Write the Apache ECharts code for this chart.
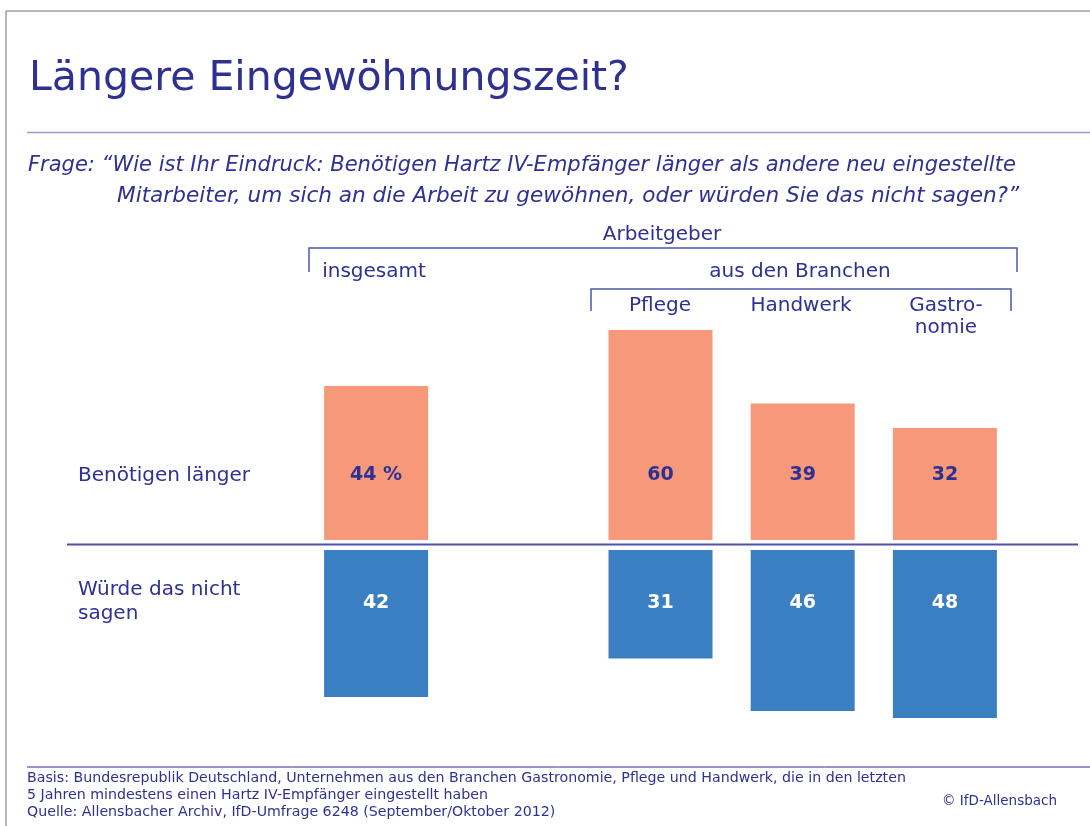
<!DOCTYPE html>
<html><head><meta charset="utf-8">
<script src="https://cdn.jsdelivr.net/npm/echarts@6/dist/echarts.min.js"></script>
<style>html,body{margin:0;padding:0;background:#fff}#c{width:1090px;height:826px}</style>
</head><body><div id="c"></div>
<script>
const categories = ['insgesamt', '', 'Pflege', 'Handwerk', 'Gastronomie'];
const benoetigenLaenger = [44, null, 60, 39, 32];
const wuerdeNichtSagen = [42, null, 31, 46, 48];
const rowLabels = ['Benötigen länger', 'Würde das nicht\nsagen'];

const DARK = '#2e3192';
const FONT = 'DejaVu Sans';
const chart = echarts.init(document.getElementById('c'), null, {renderer: 'canvas'});

function txt(x, y, text, size, opts) {
  return Object.assign({type: 'text', x: x, y: y, style: Object.assign({
    text: text, fill: DARK, font: size + 'px "' + FONT + '"', textVerticalAlign: 'middle'
  }, opts || {})});
}
function line(x1, y1, x2, y2, color, w) {
  return {type: 'line', shape: {x1: x1, y1: y1, x2: x2, y2: y2}, style: {stroke: color, lineWidth: w}};
}
function bracket(x1, x2, y, yEnd) {
  return {type: 'polyline', shape: {points: [[x1, yEnd], [x1, y], [x2, y], [x2, yEnd]]},
    style: {stroke: '#4a58a8', lineWidth: 1.5, fill: null}};
}

chart.setOption({
  animation: false,
  grid: [
    {left: 305, width: 711, top: 295, height: 245},
    {left: 305, width: 711, top: 550, height: 175}
  ],
  xAxis: [
    {type: 'category', gridIndex: 0, data: categories, show: false},
    {type: 'category', gridIndex: 1, data: categories, show: false}
  ],
  yAxis: [
    {type: 'value', gridIndex: 0, min: 0, max: 70, show: false},
    {type: 'value', gridIndex: 1, min: 0, max: 50, inverse: true, show: false}
  ],
  series: [
    {type: 'bar', xAxisIndex: 0, yAxisIndex: 0, data: benoetigenLaenger, barWidth: 104,
      itemStyle: {color: '#f5997a'},
      label: {show: true, position: 'insideBottom', distance: 55, color: DARK, fontWeight: 'bold',
        fontSize: 19, fontFamily: FONT,
        formatter: p => p.dataIndex === 0 ? p.value + ' %' : String(p.value)}},
    {type: 'bar', xAxisIndex: 1, yAxisIndex: 1, data: wuerdeNichtSagen, barWidth: 104,
      itemStyle: {color: '#3a7fc1'},
      label: {show: true, position: 'insideTop', distance: 44, color: '#fff', fontWeight: 'bold',
        fontSize: 19, fontFamily: FONT}}
  ],
  graphic: [
    line(6, 11, 1090, 11, '#a0a0a0', 1.5),
    line(6, 11, 6, 826, '#a0a0a0', 1.5),
    txt(29, 79, 'Längere Eingewöhnungszeit?', 41),
    line(27, 132.5, 1090, 132.5, '#9a9ccc', 1.5),
    txt(28, 166, 'Frage: “Wie ist Ihr Eindruck: Benötigen Hartz IV-Empfänger länger als andere neu eingestellte', 21, {font: 'italic 21px "' + FONT + '"'}),
    txt(117, 196, 'Mitarbeiter, um sich an die Arbeit zu gewöhnen, oder würden Sie das nicht sagen?”', 21, {font: 'italic 21.6px "' + FONT + '"'}),
    txt(662, 235, 'Arbeitgeber', 20, {textAlign: 'center'}),
    bracket(309, 1017, 248, 272),
    txt(374, 272, categories[0], 20, {textAlign: 'center'}),
    txt(800, 272, 'aus den Branchen', 20, {textAlign: 'center'}),
    bracket(591, 1011, 289, 311),
    txt(660, 306, categories[2], 20, {textAlign: 'center'}),
    txt(801, 306, categories[3], 20, {textAlign: 'center'}),
    txt(946, 306, 'Gastro-', 20, {textAlign: 'center'}),
    txt(946, 328, 'nomie', 20, {textAlign: 'center'}),
    txt(78, 476, rowLabels[0], 20),
    txt(78, 590, 'Würde das nicht', 20),
    txt(78, 614, 'sagen', 20),
    line(67, 544.5, 1078, 544.5, '#4f52a8', 2),
    line(27, 767, 1090, 767, DARK, 1),
    txt(27, 778, 'Basis: Bundesrepublik Deutschland, Unternehmen aus den Branchen Gastronomie, Pflege und Handwerk, die in den letzten', 14.2),
    txt(27, 795, '5 Jahren mindestens einen Hartz IV-Empfänger eingestellt haben', 14.2),
    txt(27, 812, 'Quelle: Allensbacher Archiv, IfD-Umfrage 6248 (September/Oktober 2012)', 14.2),
    txt(1057, 801, '© IfD-Allensbach', 13.5, {textAlign: 'right'})
  ]
});
</script></body></html>
